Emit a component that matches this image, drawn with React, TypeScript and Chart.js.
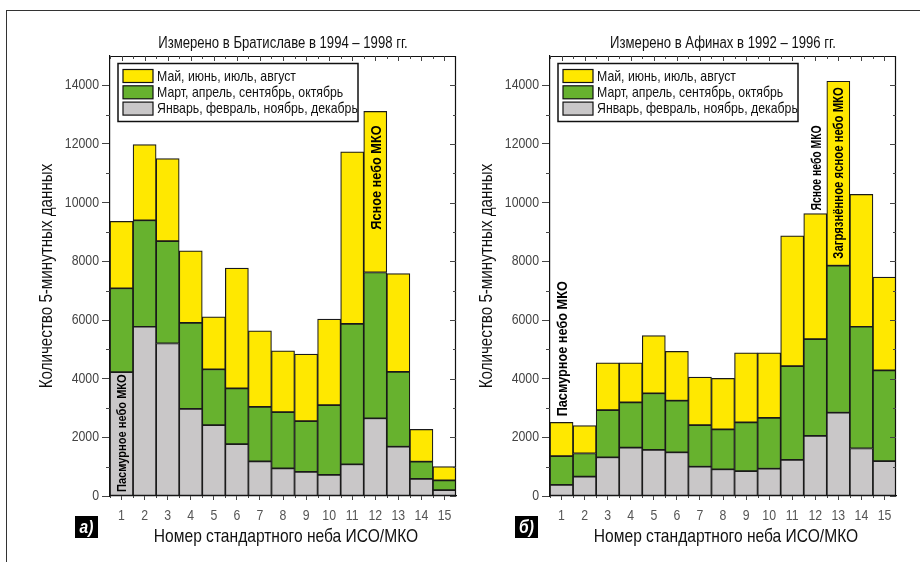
import React, { useEffect, useRef } from 'react';
import { Chart, registerables } from 'chart.js';

Chart.register(...registerables);

// ---------- DATA ----------
const categories = ['1', '2', '3', '4', '5', '6', '7', '8', '9', '10', '11', '12', '13', '14', '15'];
const seasonLabels = [
  'Январь, февраль, ноябрь, декабрь',
  'Март, апрель, сентябрь, октябрь',
  'Май, июнь, июль, август',
];
const seasonColors = ['#c9c7c8', '#67b22e', '#ffe800'];

// Bratislava 1994–1998 (counts of 5-minute records per season group)
const bratislavaWinter = [4220, 5770, 5200, 2970, 2420, 1770, 1180, 940, 820, 720, 1080, 2650, 1680, 580, 200];
const bratislavaSpringAutumn = [2860, 3630, 3490, 2930, 1900, 1900, 1860, 1920, 1730, 2380, 4790, 4970, 2550, 590, 330];
const bratislavaSummer = [2280, 2580, 2810, 2460, 1790, 4100, 2590, 2090, 2290, 2930, 5860, 5490, 3350, 1100, 470];

// Athens 1992–1996
const athensWinter = [380, 660, 1320, 1650, 1570, 1490, 1000, 910, 850, 930, 1230, 2050, 2840, 1620, 1190];
const athensSpringAutumn = [980, 790, 1610, 1540, 1930, 1760, 1420, 1360, 1660, 1730, 3200, 3300, 5010, 4150, 3090];
const athensSummer = [1150, 950, 1610, 1350, 1970, 1680, 1630, 1740, 2370, 2220, 4440, 4280, 6290, 4510, 3180];

const yTickValues = [0, 2000, 4000, 6000, 8000, 10000, 12000, 14000];
const yMax = 15000;
const yStep = 2000;
const yMinorStep = 1000;
const yTitle = 'Количество 5-минутных данных';
const xTitle = 'Номер стандартного неба ИСО/МКО';

type Note = { index: number; text: string; mode: 'insideBase' | 'insideTop' | 'above'; gap: number; size: number; squeeze: number };

const bratislavaNotes: Note[] = [
  { index: 0, text: 'Пасмурное небо МКО', mode: 'insideBase', gap: 4, size: 13.5, squeeze: 0.82 },
  { index: 11, text: 'Ясное небо МКО', mode: 'insideTop', gap: 14, size: 15.5, squeeze: 0.82 },
];
const athensNotes: Note[] = [
  { index: 0, text: 'Пасмурное небо МКО', mode: 'above', gap: 6, size: 15.5, squeeze: 0.82 },
  { index: 11, text: 'Ясное небо МКО', mode: 'above', gap: 3, size: 15.5, squeeze: 0.67 },
  { index: 12, text: 'Загрязнённое ясное небо МКО', mode: 'insideTop', gap: 6, size: 13.8, squeeze: 0.82 },
];

const FONT = "'Liberation Sans', Arial, sans-serif";
const NARROW = 0.82;

type Panel = {
  title: string;
  letter: string;
  winter: number[];
  spring: number[];
  summer: number[];
  notes: Note[];
  left: number;
};

const panels: Panel[] = [
  { title: 'Измерено в Братиславе в 1994 – 1998 гг.', letter: 'а)', winter: bratislavaWinter, spring: bratislavaSpringAutumn, summer: bratislavaSummer, notes: bratislavaNotes, left: 10 },
  { title: 'Измерено в Афинах в 1992 – 1996 гг.', letter: 'б)', winter: athensWinter, spring: athensSpringAutumn, summer: athensSummer, notes: athensNotes, left: 450 },
];

const CW = 460;
const CH = 540;
const AREA_LEFT = 100;
const AREA_TOP = 36;
const AREA_BOTTOM = 476;

function narrowText(
  ctx: CanvasRenderingContext2D,
  text: string,
  x: number,
  y: number,
  font: string,
  align: CanvasTextAlign,
  color: string,
  rotate = 0,
  squeeze = NARROW,
) {
  ctx.save();
  ctx.translate(x, y);
  if (rotate) ctx.rotate(rotate);
  ctx.scale(squeeze, 1);
  ctx.font = font;
  ctx.textAlign = align;
  ctx.textBaseline = 'middle';
  ctx.fillStyle = color;
  ctx.fillText(text, 0, 0);
  ctx.restore();
}

function makePlugin(p: Panel) {
  return {
    id: 'panelDeco',
    afterDraw(chart: any) {
      const ctx: CanvasRenderingContext2D = chart.ctx;
      const a = chart.chartArea;
      const xs = chart.scales.x;
      const ys = chart.scales.y;
      ctx.save();
      ctx.strokeStyle = '#111';
      ctx.lineWidth = 1.2;
      // top & right border
      ctx.beginPath();
      ctx.moveTo(a.left, a.top + 0.5);
      ctx.lineTo(a.right - 0.5, a.top + 0.5);
      ctx.lineTo(a.right - 0.5, a.bottom);
      ctx.stroke();

      ctx.strokeStyle = '#444';
      ctx.lineWidth = 1;
      ctx.beginPath();
      for (let v = 0; v < yMax; v += yMinorStep) {
        const py = Math.round(ys.getPixelForValue(v)) + 0.5;
        const major = v % yStep === 0;
        if (!major) {
          ctx.moveTo(a.left - 4, py);
          ctx.lineTo(a.left, py);
        }
        ctx.moveTo(a.right, py);
        ctx.lineTo(a.right - (major ? 6 : 3), py);
      }
      const half = (xs.getPixelForValue(1) - xs.getPixelForValue(0)) / 2;
      for (let i = 0; i < categories.length; i++) {
        const px = Math.round(xs.getPixelForValue(i)) + 0.5;
        ctx.moveTo(px, a.top);
        ctx.lineTo(px, a.top + 5);
        const bx = Math.round(xs.getPixelForValue(i) - half) + 0.5;
        ctx.moveTo(bx, a.top);
        ctx.lineTo(bx, a.top + 3);
        ctx.moveTo(bx, a.bottom);
        ctx.lineTo(bx, a.bottom + 2);
      }
      ctx.stroke();

      // tick labels
      yTickValues.forEach((v) => {
        narrowText(ctx, String(v), a.left - 11, ys.getPixelForValue(v), `15px ${FONT}`, 'right', '#444');
      });
      categories.forEach((c, i) => {
        narrowText(ctx, c, xs.getPixelForValue(i), a.bottom + 20, `15px ${FONT}`, 'center', '#555');
      });

      // legend
      const lx = a.left + 8;
      const ly = a.top + 7.5;
      const lw = 240;
      const lh = 58;
      ctx.fillStyle = '#fff';
      ctx.fillRect(lx, ly, lw, lh);
      ctx.strokeStyle = '#111';
      ctx.lineWidth = 1.5;
      ctx.strokeRect(lx, ly, lw, lh);
      const order = [2, 1, 0];
      order.forEach((k, r) => {
        const sy = ly + 6 + r * 16.3;
        ctx.fillStyle = seasonColors[k];
        ctx.fillRect(lx + 5, sy, 30, 13);
        ctx.lineWidth = 1.2;
        ctx.strokeStyle = '#111';
        ctx.strokeRect(lx + 5, sy, 30, 13);
        narrowText(ctx, seasonLabels[k], lx + 39, sy + 7, `15px ${FONT}`, 'left', '#111');
      });

      // title
      narrowText(ctx, p.title, (a.left + a.right) / 2, a.top - 12, `16px ${FONT}`, 'center', '#111');

      // x title
      narrowText(ctx, xTitle, (a.left + a.right) / 2 + 3, a.bottom + 41, `19px ${FONT}`, 'center', '#111');

      // y title
      narrowText(ctx, yTitle, a.left - 63, (a.top + a.bottom) / 2, `18.5px ${FONT}`, 'center', '#111', -Math.PI / 2);

      // panel letter
      const bx0 = a.left - 35;
      const by0 = a.bottom + 20;
      ctx.fillStyle = '#000';
      ctx.fillRect(bx0, by0, 23, 22);
      narrowText(ctx, p.letter, bx0 + 11.5, by0 + 11.5, `italic bold 19px ${FONT}`, 'center', '#fff');

      // notes
      p.notes.forEach((n) => {
        const total = p.winter[n.index] + p.spring[n.index] + p.summer[n.index];
        const px = xs.getPixelForValue(n.index);
        const top = ys.getPixelForValue(total);
        const base = ys.getPixelForValue(0);
        let ay = top;
        if (n.mode === 'insideBase') ay = base - n.gap;
        else if (n.mode === 'insideTop') ay = top + n.gap;
        else ay = top - n.gap;
        narrowText(
          ctx,
          n.text,
          px + 1,
          ay,
          `bold ${n.size}px ${FONT}`,
          n.mode === 'insideTop' ? 'right' : 'left',
          '#000',
          -Math.PI / 2,
          n.squeeze,
        );
      });
      ctx.restore();
    },
  };
}

function PanelChart({ p }: { p: Panel }) {
  const ref = useRef<HTMLCanvasElement | null>(null);
  useEffect(() => {
    if (!ref.current) return;
    const mk = (label: string, data: number[], color: string) => ({
      label,
      data,
      backgroundColor: color,
      borderColor: '#1a1a1a',
      borderWidth: 1.2,
      borderSkipped: false as const,
      barPercentage: 1,
      categoryPercentage: 1,
    });
    const chart = new Chart(ref.current, {
      type: 'bar',
      data: {
        labels: categories,
        datasets: [
          mk(seasonLabels[0], p.winter, seasonColors[0]),
          mk(seasonLabels[1], p.spring, seasonColors[1]),
          mk(seasonLabels[2], p.summer, seasonColors[2]),
        ],
      },
      options: {
        responsive: false,
        animation: false,
        events: [],
        layout: { padding: { left: 0, top: AREA_TOP, right: CW - (AREA_LEFT + 346), bottom: 0 } },
        plugins: { legend: { display: false }, tooltip: { enabled: false }, title: { display: false } },
        scales: {
          x: {
            stacked: true,
            grid: { display: true, offset: false, drawOnChartArea: false, drawTicks: true, tickLength: 4, color: '#444' },
            border: { display: true, color: '#111', width: 1.2 },
            ticks: { display: false, autoSkip: false },
            afterFit: (s: any) => { s.height = CH - AREA_BOTTOM; },
          },
          y: {
            stacked: true,
            min: 0,
            max: yMax,
            grid: { display: true, drawOnChartArea: false, drawTicks: true, tickLength: 8, color: '#444' },
            border: { display: true, color: '#111', width: 1.2 },
            ticks: { display: false },
            afterBuildTicks: (s: any) => { s.ticks = yTickValues.map((v) => ({ value: v })); },
            afterFit: (s: any) => { s.width = AREA_LEFT; },
          },
        },
      },
      plugins: [makePlugin(p)],
    } as any);
    return () => chart.destroy();
  }, [p]);
  return (
    <canvas
      ref={ref}
      width={CW}
      height={CH}
      style={{ position: 'absolute', left: p.left, top: 20, width: CW, height: CH }}
    />
  );
}

export default function App() {
  return (
    <div style={{ position: 'absolute', left: 0, top: 0, width: 920, height: 562, overflow: 'hidden', background: '#fff' }}>
      <div style={{ position: 'absolute', left: 6, top: 10, width: 1000, height: 1000, borderTop: '1.5px solid #333', borderLeft: '1.5px solid #333' }} />
      {panels.map((p, i) => (
        <PanelChart key={i} p={p} />
      ))}
    </div>
  );
}
